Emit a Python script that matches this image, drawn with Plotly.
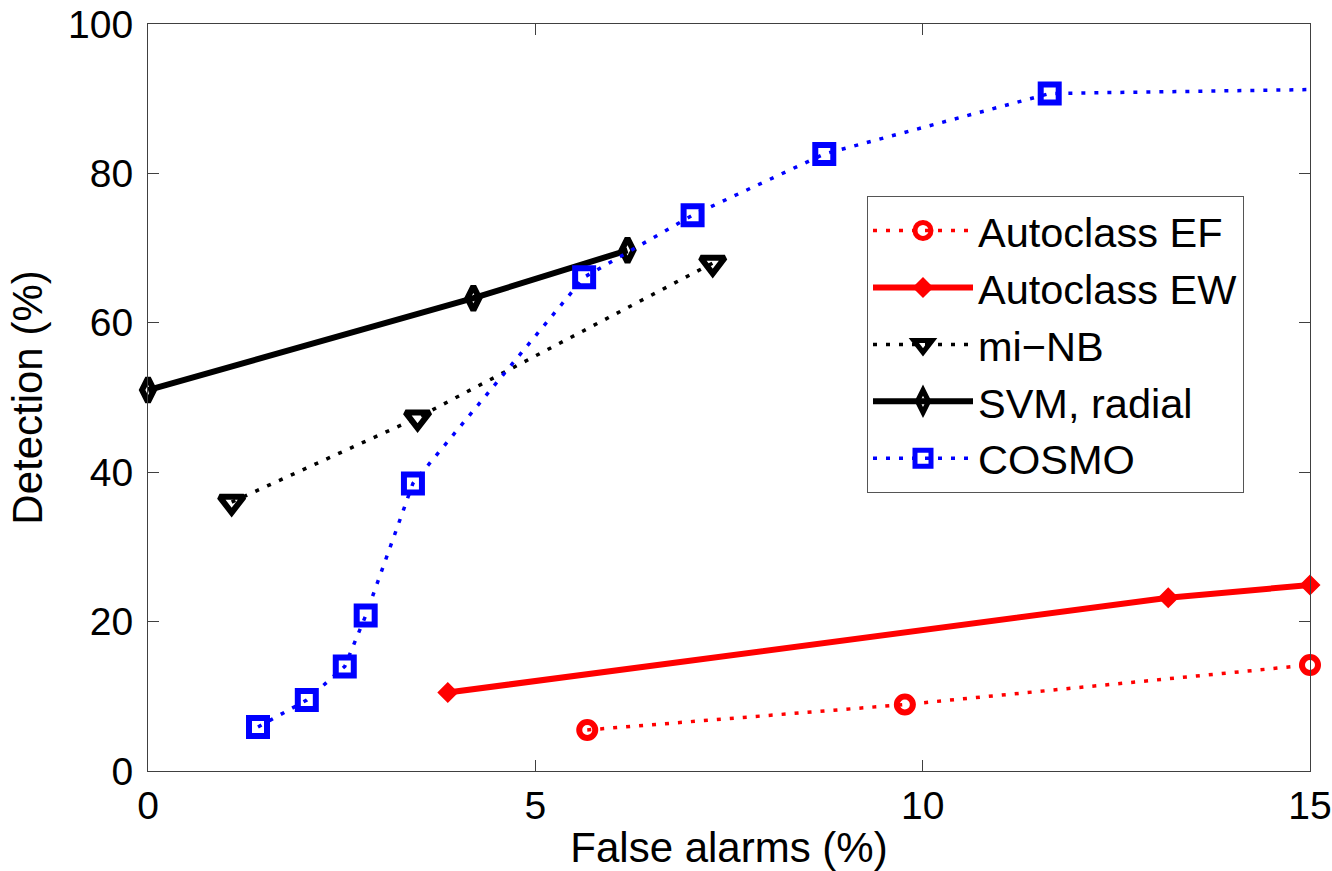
import plotly.graph_objects as go

# ---- data ----
ef_x = [5.67, 9.77, 15.0]
ef_y = [5.5, 8.9, 14.2]

ew_x = [3.87, 13.17, 15.0]
ew_y = [10.5, 23.2, 24.9]

minb_x = [1.08, 3.48, 7.29]
minb_y = [36.0, 47.3, 68.0]

svm_x = [0.0, 4.20, 6.19]
svm_y = [51.0, 63.3, 69.7]

cosmo_x = [1.42, 2.05, 2.54, 2.81, 3.42, 5.63, 7.03, 8.73, 11.64, 20.0]
cosmo_y = [5.9, 9.5, 14.0, 20.8, 38.5, 66.1, 74.4, 82.6, 90.7, 92.0]

names = ["Autoclass EF", "Autoclass EW", "mi\u2212NB", "SVM, radial", "COSMO"]
x_ticks = [0, 5, 10, 15]
y_ticks = [0, 20, 40, 60, 80, 100]

FONT = "Arial, 'Liberation Sans', Helvetica, sans-serif"
DOT = "4px,9px"
AX = "#404040"

fig = go.Figure()

fig.add_trace(go.Scatter(
    x=ef_x, y=ef_y, name=names[0], mode="lines+markers", cliponaxis=False,
    line=dict(color="#ff0000", width=3.5, dash=DOT),
    marker=dict(symbol="circle-open", size=16, color="#ff0000", line=dict(width=6, color="#ff0000")),
))
fig.add_trace(go.Scatter(
    x=ew_x, y=ew_y, name=names[1], mode="lines+markers", cliponaxis=False,
    line=dict(color="#ff0000", width=6),
    marker=dict(symbol="diamond", size=14, color="#ff0000", line=dict(width=2, color="#ff0000")),
))
fig.add_trace(go.Scatter(
    x=minb_x, y=minb_y, name=names[2], mode="lines+markers", cliponaxis=False,
    line=dict(color="#000000", width=3.5, dash=DOT),
    marker=dict(symbol="triangle-down-open", size=21, color="#000000", line=dict(width=6, color="#000000")),
))
fig.add_trace(go.Scatter(
    x=svm_x, y=svm_y, name=names[3], mode="lines+markers", cliponaxis=False,
    line=dict(color="#000000", width=6),
    marker=dict(symbol="diamond-tall-open", size=17, color="#000000", line=dict(width=6, color="#000000")),
))
fig.add_trace(go.Scatter(
    x=cosmo_x, y=cosmo_y, name=names[4], mode="lines+markers", cliponaxis=True,
    line=dict(color="#0000ff", width=3.5, dash=DOT),
    marker=dict(symbol="square-open", size=18, color="#0000ff", line=dict(width=6, color="#0000ff")),
))

axis_common = dict(
    showline=True, linecolor=AX, linewidth=1, mirror="ticks",
    ticks="inside", ticklen=11, tickwidth=1, tickcolor=AX,
    showgrid=False, zeroline=False, ticklabeloverflow="allow",
    tickfont=dict(family=FONT, size=39, color="#000000"),
)

fig.update_layout(
    width=1332, height=871,
    paper_bgcolor="white", plot_bgcolor="white",
    margin=dict(l=148, r=22, t=24, b=100, autoexpand=False),
    font=dict(family=FONT, size=39, color="#000000"),
    xaxis=dict(range=[0, 15], tickvals=x_ticks, ticktext=[str(v) for v in x_ticks],
               title=dict(text="False alarms (%)", font=dict(family=FONT, size=42), standoff=14),
               **axis_common),
    yaxis=dict(range=[0, 100], tickvals=y_ticks, ticktext=[str(v) for v in y_ticks],
               ticklabelstandoff=6,
               title=dict(text="Detection (%)", font=dict(family=FONT, size=42), standoff=12),
               **axis_common),
    legend=dict(
        x=(867 - 148) / 1162, y=(771 - 196) / 747, xanchor="left", yanchor="top",
        bgcolor="white", bordercolor="#555555", borderwidth=1,
        font=dict(family=FONT, size=41.5, color="#000000"),
        itemwidth=100, tracegroupgap=0,
    ),
    showlegend=True,
)

fig.write_html(
    "out.html",
    config={"displayModeBar": False},
    post_script=(
        "document.body.style.margin='0';"
        "document.body.style.overflow='hidden';"
        "document.documentElement.style.overflow='hidden';"
    ),
)
